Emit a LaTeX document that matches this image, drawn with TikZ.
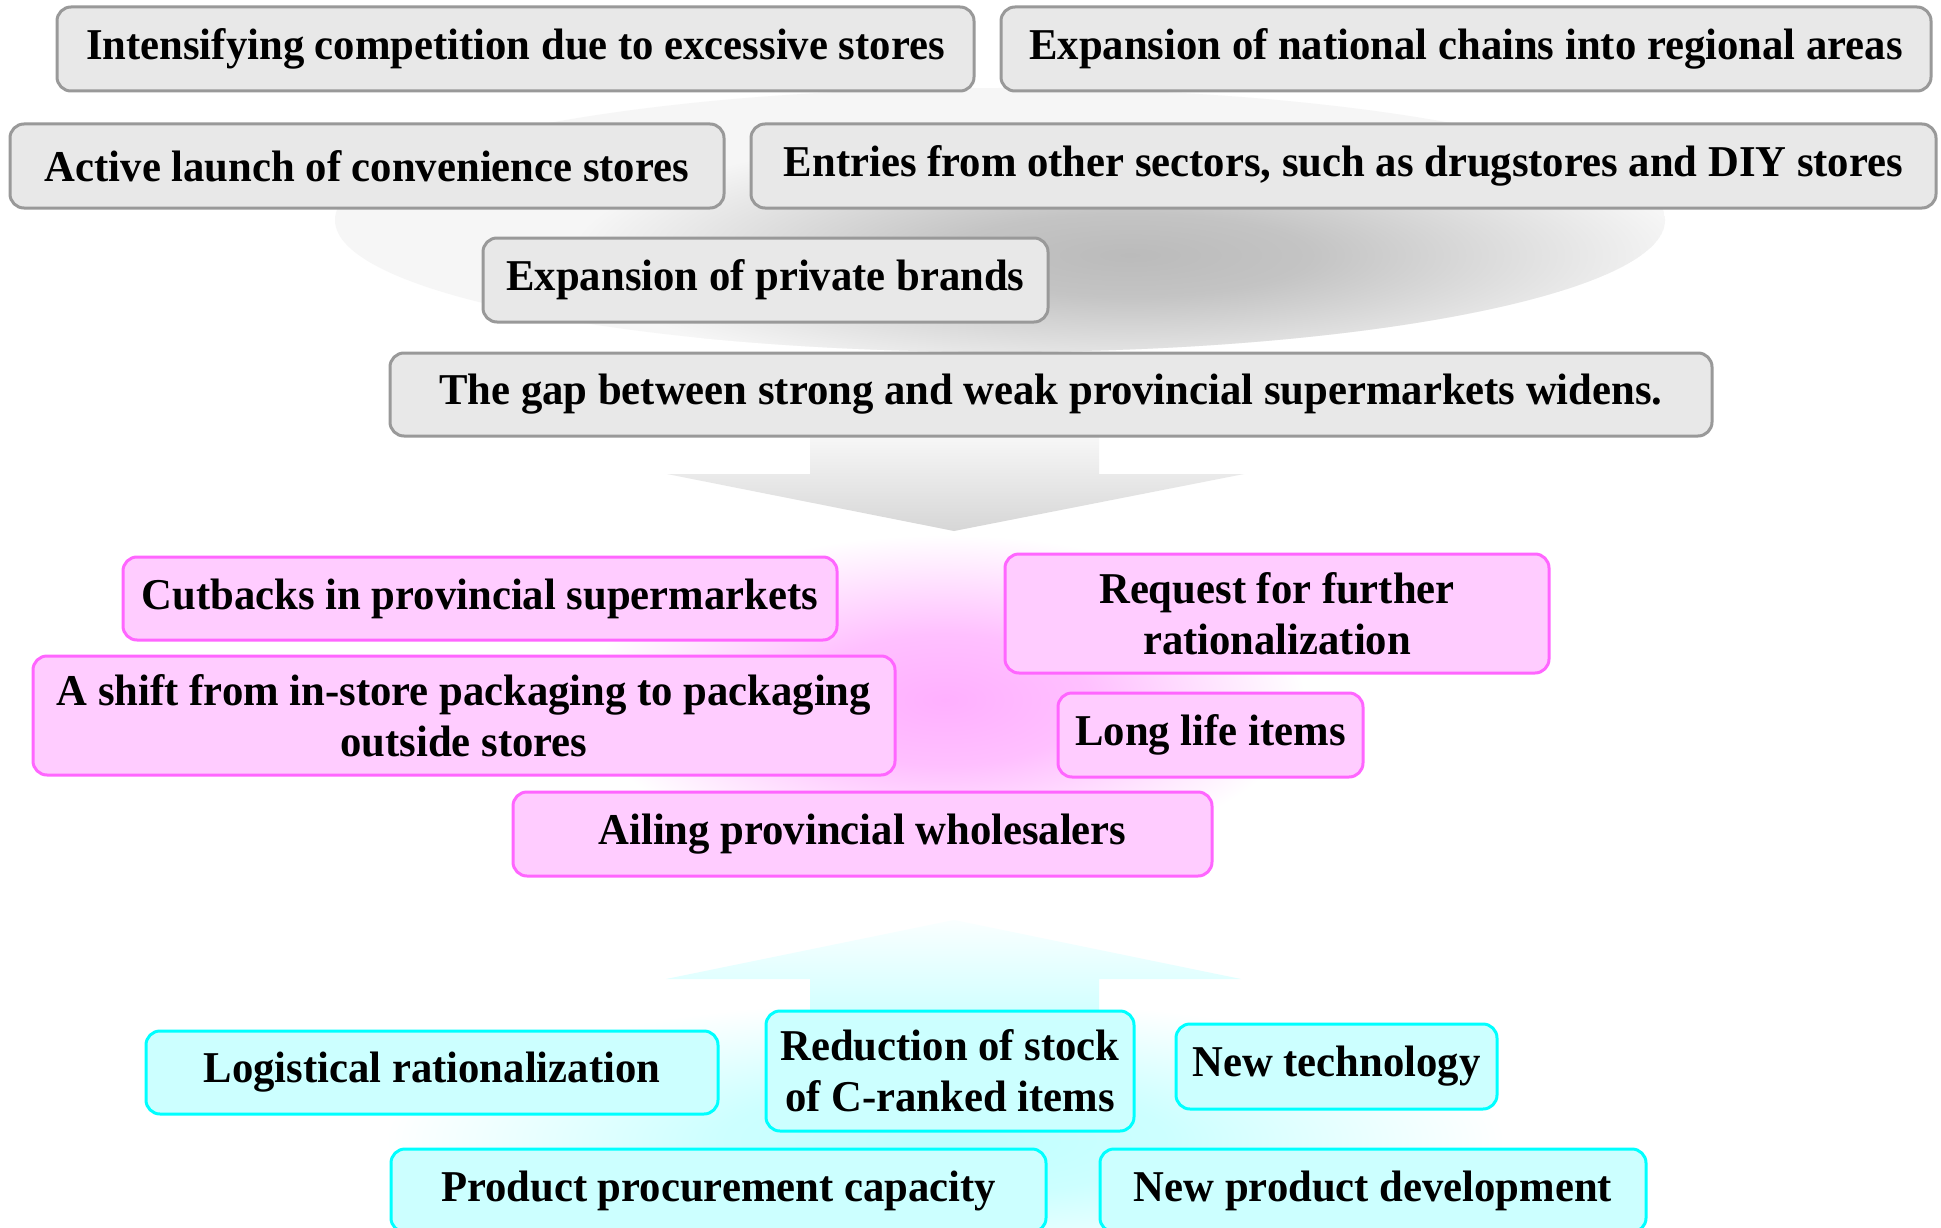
\documentclass[tikz,border=0pt]{standalone}
\usepackage{fontspec}
\setmainfont{Liberation Serif}[FakeStretch=0.97]
\definecolor{gfill}{HTML}{E8E8E8}
\definecolor{gline}{HTML}{999999}
\definecolor{pfill}{HTML}{FFCCFF}
\definecolor{pline}{HTML}{FF66FF}
\definecolor{cfill}{HTML}{CCFFFF}
\definecolor{cline}{HTML}{00FFFF}
\definecolor{blobgray}{HTML}{BBBBBB}
\definecolor{blobedge}{HTML}{F6F6F6}
\definecolor{blobpink}{HTML}{FFB0FF}
\definecolor{blobcyan}{HTML}{C0FFFF}
\pgfdeclareradialshading{grayblob}{\pgfpoint{0bp}{0bp}}{color(0bp)=(blobgray); color(8bp)=(blobgray!85!blobedge); color(25bp)=(blobedge); color(50bp)=(blobedge)}
\pgfdeclareradialshading{pinkblob}{\pgfpoint{0bp}{0bp}}{color(0bp)=(blobpink); color(10bp)=(blobpink!80!white); color(25bp)=(white); color(50bp)=(white)}
\pgfdeclareradialshading{cyanblob}{\pgfpoint{0bp}{0bp}}{color(0bp)=(blobcyan); color(10bp)=(blobcyan!80!white); color(25bp)=(white); color(50bp)=(white)}
\begin{document}
\begin{tikzpicture}[x=1pt,y=-1pt,
  box/.style={rounded corners=14pt, line width=3pt, align=center, inner sep=0pt,
    font=\fontsize{44}{51}\selectfont\bfseries},
  gbox/.style={box, draw=gline, fill=gfill},
  pbox/.style={box, draw=pline, fill=pfill},
  cbox/.style={box, draw=cline, fill=cfill},
  sz/.style n args={2}{minimum width=#1pt, minimum height=#2pt}]
\useasboundingbox (0,0) rectangle (1941,1228);
\fill[white] (0,0) rectangle (1941,1228);

% gray background blob
\begin{scope}
  \clip (1000,220) ellipse [x radius=665pt, y radius=132pt];
  \fill[blobedge] (1000,220) ellipse [x radius=665pt, y radius=132pt];
  \shade[shading=grayblob] (1130,255) ellipse [x radius=560pt, y radius=130pt];
\end{scope}

% pink blob
\shade[shading=pinkblob] (945,700) ellipse [x radius=360pt, y radius=165pt];

% cyan blob
\shade[shading=cyanblob] (945,1140) ellipse [x radius=560pt, y radius=140pt];

% gray down arrow
\shade[top color=white!97!black, bottom color=white!84!black]
  (810,436) -- (1099,436) -- (1099,474) -- (1244,474) -- (954,531) -- (667,474) -- (810,474) -- cycle;

% cyan up arrow
\shade[top color=white!98!cyan, bottom color=white!82!cyan]
  (954,920) -- (1241,979) -- (1099,979) -- (1099,1014) -- (810,1014) -- (810,979) -- (666,979) -- cycle;

% top boxes
\node[gbox, sz={917}{84}] (A) at (515.5,49) {Intensifying competition due to excessive stores};
\node[gbox, sz={930}{84}] (F) at (1466,49) {Expansion of national chains into regional areas};
\node[gbox, sz={714}{84}] (B) at (367,166) {Active launch of convenience stores};
\node[gbox, sz={1185}{84}] (C) at (1343.5,166) {Entries from other sectors, such as drugstores and DIY stores};
\node[gbox, sz={565}{84}] (D) at (765.5,280) {Expansion of private brands};
\node[gbox, sz={1322}{83}] (E) at (1051,394.5) {The gap between strong and weak provincial supermarkets widens.};

% pink boxes
\node[pbox, sz={714}{83}] (G) at (480,598.5) {Cutbacks in provincial supermarkets};
\node[pbox, sz={862}{119}] (H) at (464,715.5) {A shift from in-store packaging to packaging\\outside stores};
\node[pbox, sz={699}{84}] (I) at (862.5,834) {Ailing provincial wholesalers};
\node[pbox, sz={544}{119}] (J) at (1277,613.5) {Request for further\\rationalization};
\node[pbox, sz={305}{84}] (K) at (1210.5,735) {Long life items};

% cyan boxes
\node[cbox, sz={572}{83}] (L) at (432,1072.5) {Logistical rationalization};
\node[cbox, sz={368}{120}] (M) at (950,1071) {Reduction of stock\\of C-ranked items};
\node[cbox, sz={321}{85}] (N) at (1336.5,1066.5) {New technology};
\node[cbox, sz={655}{83}] (O) at (718.5,1190.5) {Product procurement capacity};
\node[cbox, sz={546}{83}] (P) at (1373,1190.5) {New product development};
\end{tikzpicture}
\end{document}
